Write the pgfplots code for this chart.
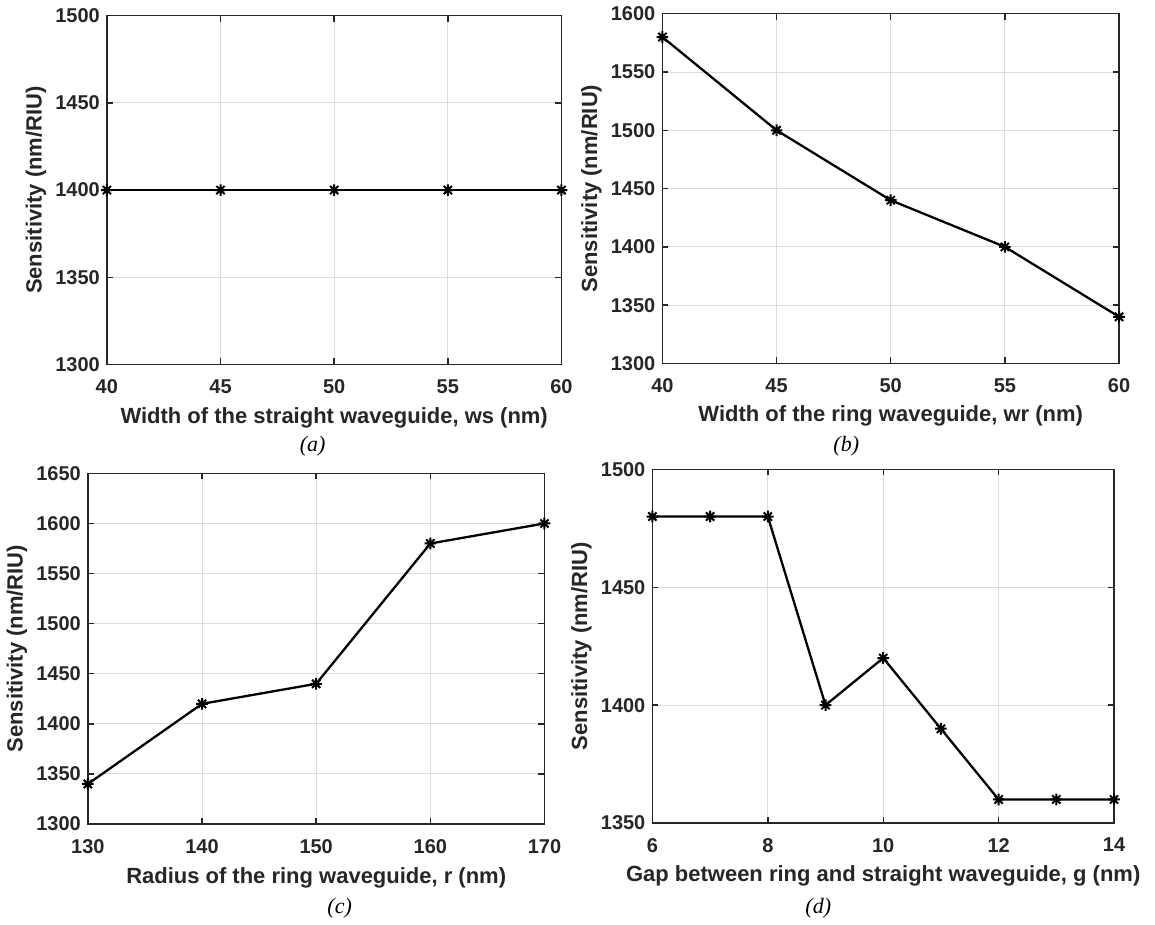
\documentclass[border=0pt]{standalone}
\usepackage{fontspec}
\setmainfont{Liberation Sans}
\newfontfamily\seriffont{Liberation Serif}
\usepackage{pgfplots}
\pgfplotsset{compat=1.18}
\definecolor{axc}{HTML}{262626}
\definecolor{grc}{HTML}{DCDCDC}
\pgfdeclareplotmark{mstar}{%
  \pgfpathmoveto{\pgfqpoint{-\pgfplotmarksize}{0pt}}\pgfpathlineto{\pgfqpoint{\pgfplotmarksize}{0pt}}%
  \pgfpathmoveto{\pgfqpoint{0pt}{-\pgfplotmarksize}}\pgfpathlineto{\pgfqpoint{0pt}{\pgfplotmarksize}}%
  \pgfpathmoveto{\pgfqpoint{-0.707\pgfplotmarksize}{-0.707\pgfplotmarksize}}\pgfpathlineto{\pgfqpoint{0.707\pgfplotmarksize}{0.707\pgfplotmarksize}}%
  \pgfpathmoveto{\pgfqpoint{-0.707\pgfplotmarksize}{0.707\pgfplotmarksize}}\pgfpathlineto{\pgfqpoint{0.707\pgfplotmarksize}{-0.707\pgfplotmarksize}}%
  \pgfusepathqstroke}
\pgfplotsset{mystyle/.style={
  scale only axis, anchor=south west, clip=false,
  axis line style={axc, line width=0.7pt},
  every tick/.style={axc, line width=0.7pt},
  tick align=inside, major tick length=3pt,
  grid=major, major grid style={grc, line width=0.5pt},
  tick label style={font=\fontsize{10}{12}\selectfont\bfseries, text=axc},
  x tick label style={yshift=-4pt},
  label style={font=\fontsize{11}{13}\selectfont\bfseries, text=axc},
  /pgf/number format/assume math mode=true,
  /pgf/number format/1000 sep={},
  xlabel style={anchor=center},
  ylabel style={anchor=center},
  ylabel={Sensitivity (nm/RIU)},
}}
\tikzset{myline/.style={black, line width=1.15pt, mark=mstar, mark size=2.9pt, mark options={line width=1.0pt, solid}}}
\begin{document}
\begin{tikzpicture}
\path (0pt,0pt) rectangle (577.5pt,459.5pt);
% (a)
\begin{axis}[mystyle, at={(53pt,278pt)}, width=227.5pt, height=174.5pt,
  xmin=40, xmax=60, ymin=1300, ymax=1500, xtick={40,45,50,55,60}, ytick={1300,1350,1400,1450,1500},
  xlabel={Width of the straight waveguide, ws (nm)},
  xlabel style={at={(axis description cs:0.5,-0.152)}},
  ylabel style={at={(axis description cs:-0.156,0.5)}}]
\addplot[myline] coordinates {(40,1400) (45,1400) (50,1400) (55,1400) (60,1400)};
\end{axis}
% (b)
\begin{axis}[mystyle, at={(331pt,278.5pt)}, width=228.5pt, height=175pt,
  xmin=40, xmax=60, ymin=1300, ymax=1600, xtick={40,45,50,55,60}, ytick={1300,1350,...,1600},
  xlabel={Width of the ring waveguide, wr (nm)},
  xlabel style={at={(axis description cs:0.5,-0.151)}},
  ylabel style={at={(axis description cs:-0.1554,0.5)}}]
\addplot[myline] coordinates {(40,1580) (45,1500) (50,1440) (55,1400) (60,1340)};
\end{axis}
% (c)
\begin{axis}[mystyle, at={(43.5pt,48pt)}, width=228.5pt, height=175.5pt,
  xmin=130, xmax=170, ymin=1300, ymax=1650, xtick={130,140,...,170}, ytick={1300,1350,...,1650},
  xlabel={Radius of the ring waveguide, r (nm)},
  xlabel style={at={(axis description cs:0.5,-0.154)}},
  ylabel style={at={(axis description cs:-0.1554,0.5)}}]
\addplot[myline] coordinates {(130,1340) (140,1420) (150,1440) (160,1580) (170,1600)};
\end{axis}
% (d)
\begin{axis}[mystyle, at={(326pt,48.5pt)}, width=231pt, height=177pt,
  xmin=6, xmax=14, ymin=1350, ymax=1500, xtick={6,8,10,12,14}, ytick={1350,1400,1450,1500},
  xlabel={Gap between ring and straight waveguide, g (nm)},
  xlabel style={at={(axis description cs:0.5,-0.150)}},
  ylabel style={at={(axis description cs:-0.1537,0.5)}}]
\addplot[myline] coordinates {(6,1480) (7,1480) (8,1480) (9,1400) (10,1420) (11,1390) (12,1360) (13,1360) (14,1360)};
\end{axis}
\node[font=\seriffont\itshape\fontsize{11}{13}\selectfont] at (156pt,237pt) {(a)};
\node[font=\seriffont\itshape\fontsize{11}{13}\selectfont] at (423pt,237pt) {(b)};
\node[font=\seriffont\itshape\fontsize{11}{13}\selectfont] at (169.5pt,6pt) {(c)};
\node[font=\seriffont\itshape\fontsize{11}{13}\selectfont] at (409pt,6pt) {(d)};
\end{tikzpicture}
\end{document}
